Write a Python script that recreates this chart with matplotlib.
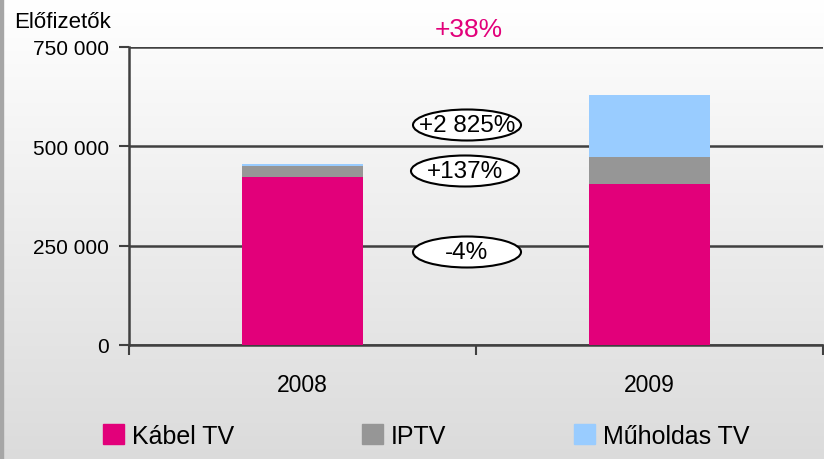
import numpy as np
import matplotlib
matplotlib.use('Agg')
import matplotlib.pyplot as plt
import matplotlib.patches as mpatches
from matplotlib.ticker import FuncFormatter

plt.rcParams['font.family'] = ['Liberation Sans', 'DejaVu Sans']

# data
years = ['2008', '2009']
kabel = [422000, 405000]
iptv = [29000, 68000]
muholdas = [5300, 156000]
series_names = ['Kábel TV', 'IPTV', 'Műholdas TV']
colors = ['#e2007a', '#969696', '#99ccff']
changes = ['+2 825%', '+137%', '-4%']
total_change = '+38%'

fig = plt.figure(figsize=(8.24, 4.6), dpi=100)

# gradient background
bg = fig.add_axes([0, 0, 1, 1], zorder=-10)
grad = np.linspace(1.0, 0.86, 256).reshape(-1, 1)
bg.imshow(np.dstack([grad, grad, grad]), aspect='auto', extent=[0, 1, 0, 1])
bg.axvspan(0, 3 / 824, color='#a6a6a6')
bg.set_xlim(0, 1)
bg.set_ylim(0, 1)
bg.axis('off')

ax = fig.add_axes([129 / 824, 1 - 346 / 460, 694 / 824, 298 / 460])
ax.set_facecolor('none')

x = np.arange(len(years))
w = 0.35
bottom = np.zeros(len(years))
for vals, c, name in zip([kabel, iptv, muholdas], colors, series_names):
    ax.bar(x, vals, w, bottom=bottom, color=c, label=name, zorder=3)
    bottom += np.array(vals)

ax.set_xlim(-0.5, 1.5)
ax.set_ylim(0, 750000)
ax.set_yticks([0, 250000, 500000, 750000])
ax.yaxis.set_major_formatter(FuncFormatter(lambda v, p: f'{int(v):,}'.replace(',', ' ')))
ax.set_xticks(x)
ax.set_xticklabels(years)
ax.set_xticks([-0.5, 0.5, 1.5], minor=True)
ax.tick_params(axis='x', which='major', length=0, pad=20, labelsize=16.5)
ax.tick_params(axis='x', which='minor', length=7, width=1.5, color='#404040')
ax.tick_params(axis='y', length=7.5, width=1.5, color='#404040', labelsize=15, pad=7)
ax.grid(axis='y', color='#404040', lw=1.8, zorder=1)
for s in ['top', 'right']:
    ax.spines[s].set_visible(False)
for s in ['left', 'bottom']:
    ax.spines[s].set_color('#404040')
    ax.spines[s].set_linewidth(1.8)

fig.text(14 / 824, 1 - 22 / 460, 'Előfizetők', fontsize=16, va='center', ha='left')
fig.text(469 / 824, 1 - 30 / 460, total_change, fontsize=19, color='#e2007a',
         va='center', ha='center')

# change labels in ellipses
for txt, (cx, cy) in zip(changes, [(467, 126), (465, 172), (467, 253)]):
    e = mpatches.Ellipse((cx / 824, 1 - cy / 460), 108 / 824, 31 / 460,
                         transform=fig.transFigure, facecolor='white',
                         edgecolor='black', lw=1.5, zorder=5)
    fig.patches.append(e)
    fig.text(cx / 824, 1 - cy / 460, txt, fontsize=17.5, ha='center', va='center',
             zorder=6)

handles = [mpatches.Patch(color=c, label=n) for c, n in zip(colors, series_names)]
fig.legend(handles=handles, loc='center', bbox_to_anchor=(0.517, 1 - 437 / 460),
           ncol=3, frameon=False, fontsize=18, handlelength=0.84, handleheight=0.84,
           handletextpad=0.32, columnspacing=5.1)

fig.savefig('out.png', dpi=100)
